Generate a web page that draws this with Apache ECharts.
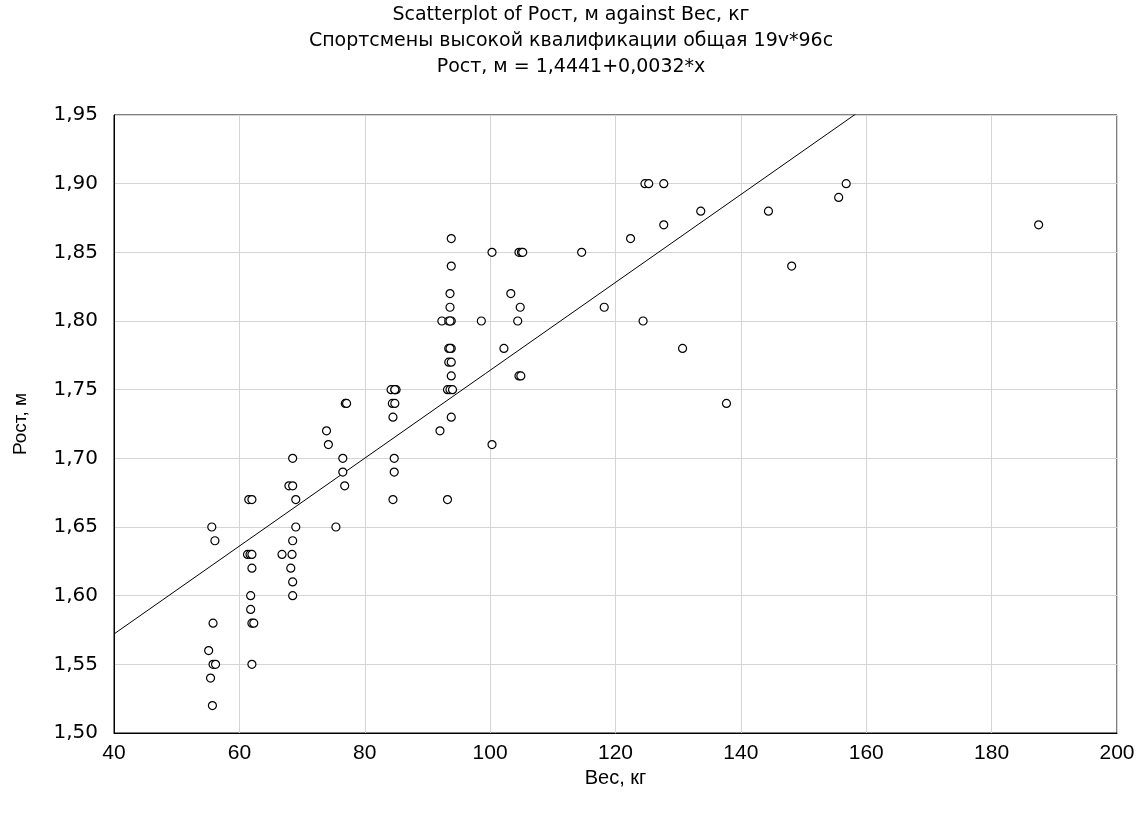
<!DOCTYPE html>
<html>
<head>
<meta charset="utf-8">
<script src="https://cdn.jsdelivr.net/npm/echarts@6/dist/echarts.min.js"></script>
<style>html,body{margin:0;padding:0;background:#fff;}#c{width:1142px;height:814px;}</style>
</head>
<body>
<div id="c"></div>
<script>
// Weight (Вес, кг)
const weights = [
  55.6, 56.1, 55.8, 55.1, 55.8, 56.2, 55.4, 55.7,
  61.5, 62.0, 61.3, 61.7, 62.0, 62.0, 61.8, 61.8, 62.0, 62.3, 62.0,
  66.8, 68.4, 68.2, 68.5, 68.5, 68.5, 69.0, 69.0, 67.9, 68.5, 68.5,
  73.9, 74.2, 75.4, 76.5, 76.5, 76.8, 76.9, 77.1,
  84.2, 84.8, 85.0, 84.8, 84.4, 84.8, 84.5, 84.7, 84.7, 84.5,
  92.0, 93.8, 93.2, 93.6, 94.0, 93.8, 93.4, 93.8, 93.4, 93.8, 93.6, 92.3, 93.4, 93.8, 93.6, 93.6, 93.6, 93.8, 93.8, 93.2,
  98.6, 100.3, 100.3, 102.2, 103.3, 104.4, 104.8, 104.6, 104.9, 104.6, 105.0, 105.2,
  114.6, 118.2, 122.4, 124.7, 125.3, 127.7, 127.7, 124.4, 130.7, 133.6, 137.7, 144.4, 148.1, 155.6, 156.8, 187.5
];
// Height (Рост, м)
const heights = [
  1.65, 1.64, 1.58, 1.56, 1.55, 1.55, 1.54, 1.52,
  1.67, 1.67, 1.63, 1.63, 1.63, 1.62, 1.60, 1.59, 1.58, 1.58, 1.55,
  1.63, 1.63, 1.62, 1.61, 1.60, 1.64, 1.65, 1.67, 1.68, 1.68, 1.70,
  1.72, 1.71, 1.65, 1.70, 1.69, 1.68, 1.74, 1.74,
  1.75, 1.75, 1.75, 1.75, 1.74, 1.74, 1.73, 1.70, 1.69, 1.67,
  1.72, 1.73, 1.75, 1.75, 1.75, 1.76, 1.77, 1.77, 1.78, 1.78, 1.78, 1.80, 1.80, 1.80, 1.80, 1.81, 1.82, 1.84, 1.86, 1.67,
  1.80, 1.85, 1.71, 1.78, 1.82, 1.80, 1.81, 1.76, 1.76, 1.85, 1.85, 1.85,
  1.85, 1.81, 1.86, 1.90, 1.90, 1.90, 1.87, 1.80, 1.78, 1.88, 1.74, 1.88, 1.84, 1.89, 1.90, 1.87
];
// Regression coefficients from the title: Рост = 1,4441 + 0,0032*x
const intercept = 1.4441;
const slope = 0.0032;
const xTicks = [40, 60, 80, 100, 120, 140, 160, 180, 200];
const yTicks = [1.50, 1.55, 1.60, 1.65, 1.70, 1.75, 1.80, 1.85, 1.90, 1.95];

const titleLines = [
  'Scatterplot of Рост, м against Вес, кг',
  'Спортсмены высокой квалификации общая 19v*96c',
  'Рост, м = 1,4441+0,0032*x'
];

const points = weights.map((w, i) => [w, heights[i]]);
const lineX = [xTicks[0], xTicks[xTicks.length - 1]];
const lineData = lineX.map(x => [x, intercept + slope * x]);

const chart = echarts.init(document.getElementById('c'), null, {renderer: 'canvas'});
const fontFam = '"DejaVu Sans", "Liberation Sans", Arial, sans-serif';
const narrowFam = '"Liberation Sans Narrow", "Liberation Sans", Arial, sans-serif';
const arialFam = '"Liberation Sans", Arial, sans-serif';
chart.setOption({
  backgroundColor: '#fff',
  animation: false,
  title: {
    text: titleLines.join('\n'),
    left: 'center',
    top: -3,
    textStyle: {fontFamily: fontFam, fontSize: 19, fontWeight: 'normal', color: '#000', lineHeight: 26}
  },
  grid: {left: 114, right: 25, top: 115, bottom: 81, show: true, borderColor: '#000', borderWidth: 1, containLabel: false},
  xAxis: {
    type: 'value',
    min: xTicks[0], max: xTicks[xTicks.length - 1], interval: 20,
    name: 'Вес, кг', nameLocation: 'middle', nameGap: 28,
    nameTextStyle: {fontFamily: narrowFam, fontSize: 20, color: '#000'},
    axisLine: {show: true, lineStyle: {color: '#000', width: 1}},
    axisTick: {show: false},
    axisLabel: {fontFamily: narrowFam, fontSize: 21, color: '#000', margin: 10},
    splitLine: {show: true, lineStyle: {color: '#d4d4d4', width: 1}}
  },
  yAxis: {
    type: 'value',
    min: yTicks[0], max: yTicks[yTicks.length - 1], interval: 0.05,
    name: 'Рост, м', nameLocation: 'middle', nameGap: 84, nameRotate: 90,
    nameTextStyle: {fontFamily: arialFam, fontSize: 19, color: '#000'},
    axisLine: {show: true, lineStyle: {color: '#000', width: 1}},
    axisTick: {show: false},
    axisLabel: {fontFamily: fontFam, fontSize: 20, color: '#000', margin: 16,
      formatter: v => v.toFixed(2).replace('.', ',')},
    splitLine: {show: true, lineStyle: {color: '#d4d4d4', width: 1}}
  },
  series: [
    {
      type: 'line',
      data: lineData,
      symbol: 'none',
      clip: true,
      lineStyle: {color: '#000', width: 1},
      silent: true,
      z: 2
    },
    {
      type: 'scatter',
      data: points,
      symbol: 'circle',
      symbolSize: 8,
      itemStyle: {color: '#fff', borderColor: '#000', borderWidth: 1.2, opacity: 1},
      z: 3
    }
  ]
});
</script>
</body>
</html>
